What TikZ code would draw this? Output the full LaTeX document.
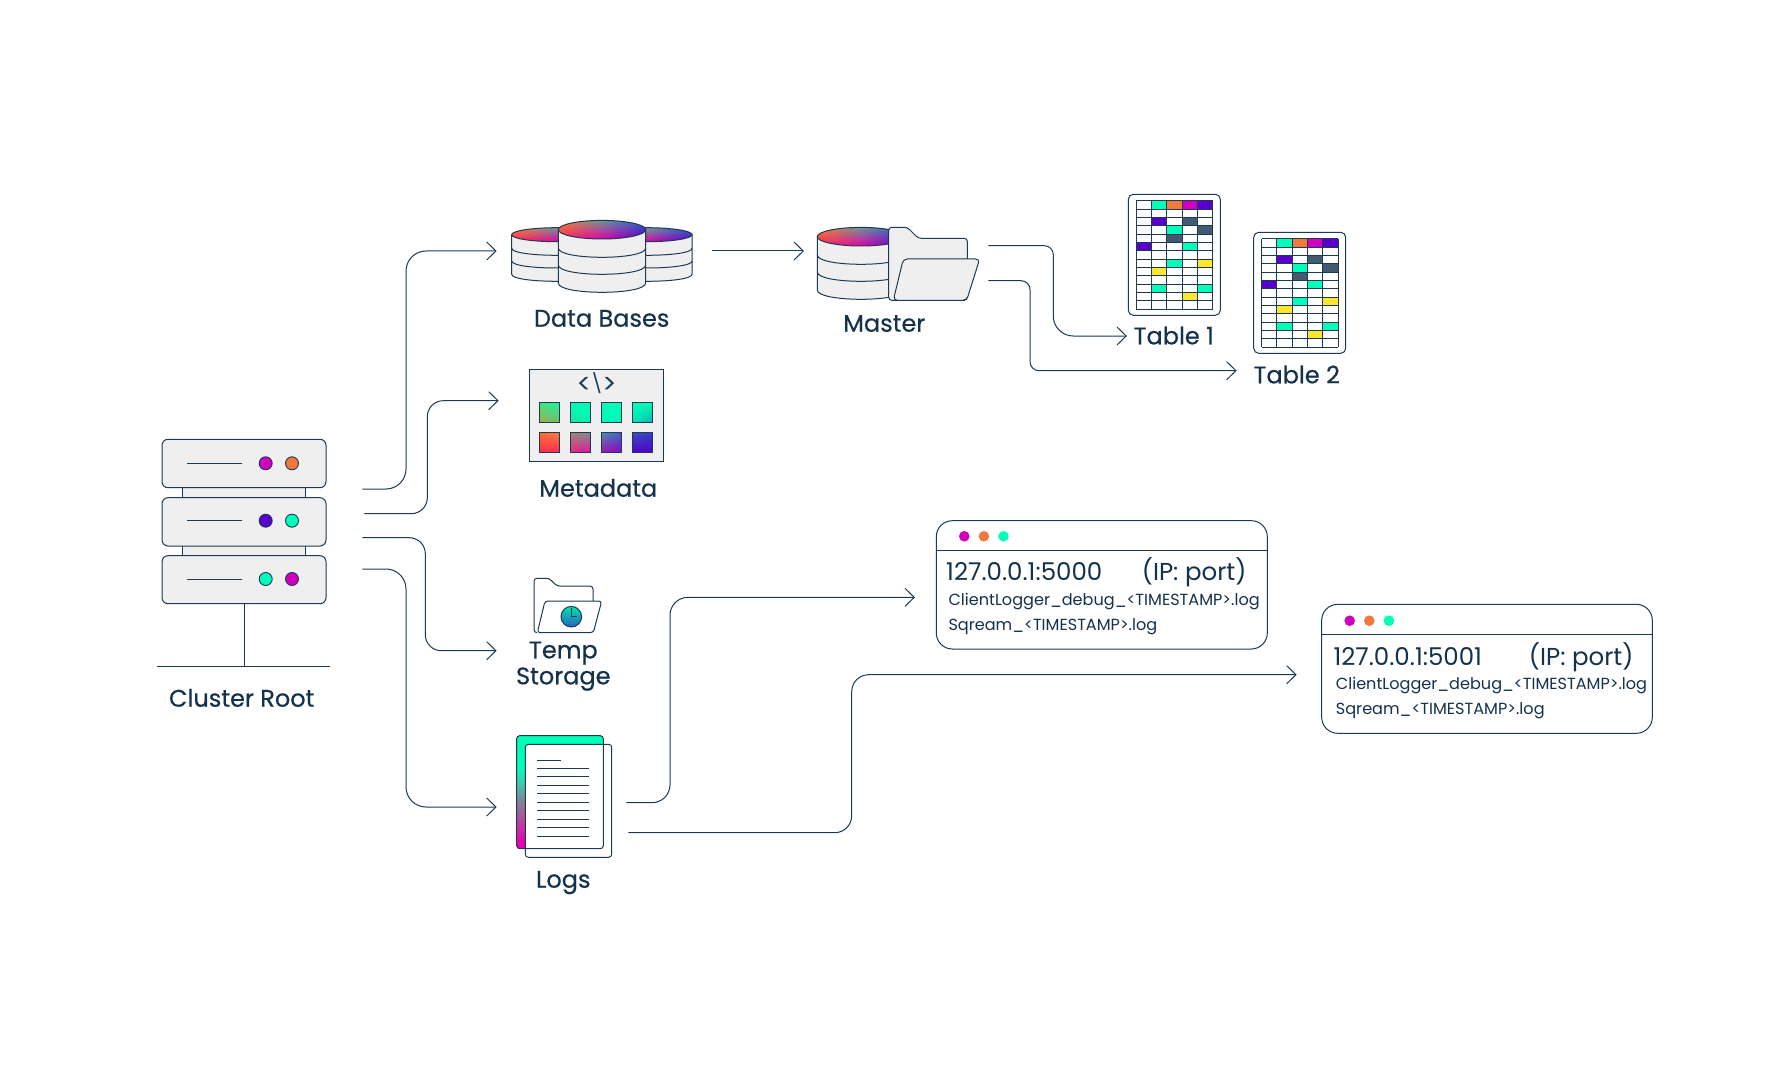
\documentclass[tikz,border=0pt]{standalone}
\usepackage{fontspec}
\setmainfont{Poppins}
\newfontfamily\labfont{Poppins}[FakeBold=0.5]
\usetikzlibrary{arrows.meta,shadings}
\definecolor{ink}{HTML}{1C3A54}
\definecolor{txt}{HTML}{14324C}
\definecolor{panel}{HTML}{EFEFEF}
\definecolor{mag}{HTML}{D000BE}
\definecolor{org}{HTML}{F07A3C}
\definecolor{pur}{HTML}{5A00CC}
\definecolor{teal}{HTML}{00FFB8}
\definecolor{yel}{HTML}{FBE72B}
\definecolor{sla}{HTML}{425A70}
\definecolor{lgA}{HTML}{E800B0}
\definecolor{lgB}{HTML}{B84AA0}
\definecolor{lgC}{HTML}{7C8A98}
\definecolor{lgD}{HTML}{30D8B0}
\pgfdeclareverticalshading{logsgrad}{100bp}{color(0bp)=(lgA); color(28bp)=(lgA); color(38bp)=(lgB); color(47bp)=(lgC); color(56bp)=(lgD); color(61bp)=(teal); color(100bp)=(teal)}
\tikzset{
 line/.style={draw=ink,line width=1pt},
 conn/.style={line,-{Straight Barb[length=9.3pt,width=18pt]}},
 lab/.style={inner sep=0pt,anchor=base,text=txt,font=\labfont\fontsize{24pt}{26pt}\selectfont},
 bigt/.style={inner sep=0pt,anchor=base west,text=txt,font=\fontsize{24.5pt}{26pt}\selectfont},
 smallt/.style={inner sep=0pt,anchor=base west,text=txt,font=\fontsize{16.1pt}{20pt}\selectfont},
 dotl/.style={line,line width=0.9pt},
}
\newcommand\bandarc[4]{\draw[line] (#1-#2,#4) .. controls (#1-#2,#4+1.333*#3) and (#1+#2,#4+1.333*#3) .. (#1+#2,#4);}
\newcommand\dbcyl[7]{%
 \path[line,fill=panel] (#1-#3,#2) -- (#1-#3,#7) .. controls (#1-#3,#7+1.333*#4) and (#1+#3,#7+1.333*#4) .. (#1+#3,#7) -- (#1+#3,#2) -- cycle;
 \bandarc{#1}{#3}{#4}{#5}\bandarc{#1}{#3}{#4}{#6}
 \begin{scope}
 \clip (#1,#2) ellipse [x radius=#3 pt,y radius=#4 pt];
 \shade[upper left=gOr,upper right=gGr,lower left=gRe,lower right=gMa] (#1-#3,#2-#4) rectangle (#1+0.3,#2+#4);
 \shade[upper left=gGr,upper right=gBl,lower left=gMa,lower right=pur] (#1,#2-#4) rectangle (#1+#3,#2+#4);
 \end{scope}
 \draw[line] (#1,#2) ellipse [x radius=#3 pt,y radius=#4 pt];
}
\definecolor{gOr}{HTML}{FF7A30}
\definecolor{gGr}{HTML}{6C9498}
\definecolor{gRe}{HTML}{FF2850}
\definecolor{gMa}{HTML}{E400A8}
\definecolor{gBl}{HTML}{2A60C8}
\newcommand\gsq[6]{%
 \definecolor{ga}{HTML}{#3}\definecolor{gb}{HTML}{#4}\definecolor{gc}{HTML}{#5}\definecolor{gd}{HTML}{#6}%
 \shade[upper left=ga,upper right=gb,lower left=gc,lower right=gd] (#1,#2) rectangle (#1+20.3,#2+20.3);
 \draw[line] (#1,#2) rectangle (#1+20.3,#2+20.3);
}
\newcommand\cellc[3]{\fill[#3] (1136.3+#2*15.28,201+#1*8.31) rectangle (1136.3+#2*15.28+15.28,201+#1*8.31+8.31);}
\newcommand\tablepic{%
 \draw[line,rounded corners=5pt] (1128.3,194.3) rectangle (1220.3,315.3);
 \cellc{0}{1}{teal}\cellc{0}{2}{org}\cellc{0}{3}{mag}\cellc{0}{4}{pur}
 \cellc{2}{1}{pur}\cellc{2}{3}{sla}
 \cellc{3}{2}{teal}\cellc{3}{4}{sla}
 \cellc{4}{2}{sla}
 \cellc{5}{0}{pur}\cellc{5}{3}{teal}
 \cellc{7}{2}{teal}\cellc{7}{4}{yel}
 \cellc{8}{1}{yel}
 \cellc{10}{1}{teal}\cellc{10}{4}{teal}
 \cellc{11}{3}{yel}
 \foreach \i in {0,...,13} {\draw[line] (1136.3,201+\i*8.31) -- (1212.7,201+\i*8.31);}
 \foreach \j in {0,...,5} {\draw[line] (1136.3+\j*15.28,201) -- (1136.3+\j*15.28,309);}
}
\newcommand\winpic[7]{%
 % x0 y0 x1 y1 yheader dotx doty
 \draw[line,rounded corners=16pt] (#1,#2) rectangle (#3,#4);
 \draw[line] (#1,#5) -- (#3,#5);
 \fill[mag] (#6,#7) circle [radius=5.3pt];
 \fill[org] (#6+19.6,#7) circle [radius=5.3pt];
 \fill[teal] (#6+39.2,#7) circle [radius=5.3pt];
}
\begin{document}
\begin{tikzpicture}[x=1pt,y=-1pt]
\useasboundingbox (0,0) rectangle (1770,1078);
\fill[white] (0,0) rectangle (1770,1078);
% ---------- server
\path[line,fill=panel] (182.7,485) rectangle (305,500);
\path[line,fill=panel] (182.7,544) rectangle (305,558);
\path[line,fill=panel,rounded corners=6pt] (162,439.3) rectangle (326,487.7);
\path[line,fill=panel,rounded corners=6pt] (162,497.7) rectangle (326,546);
\path[line,fill=panel,rounded corners=6pt] (162,555.7) rectangle (326,603.7);
\draw[line] (186.7,463.3) -- (241.7,463.3);
\draw[line] (186.7,520.7) -- (241.7,520.7);
\draw[line] (186.7,579.3) -- (241.7,579.3);
\path[dotl,fill=mag] (265.7,463.3) circle [radius=6.5pt];
\path[dotl,fill=org] (292,463.3) circle [radius=6.5pt];
\path[dotl,fill=pur] (265.7,520.7) circle [radius=6.5pt];
\path[dotl,fill=teal] (292,520.7) circle [radius=6.5pt];
\path[dotl,fill=teal] (265.7,579) circle [radius=6.5pt];
\path[dotl,fill=mag] (292,579) circle [radius=6.5pt];
\draw[line] (244,603.7) -- (244,666);
\draw[line] (157.3,666) -- (330.3,666);
\node[lab] (root) at (241.7,706.7) {Cluster Root};
% ---------- databases
\dbcyl{556.7}{234.7}{45}{7}{248.3}{261}{274.3}
\dbcyl{647}{234.7}{45}{7}{248.3}{261}{274.3}
\dbcyl{602}{229.7}{43.7}{9.3}{248}{265}{283}
\node[lab] (dbl) at (601.7,326.7) {Data Bases};
% ---------- master
\dbcyl{861}{236.7}{43.7}{9.3}{255}{272}{290}
\path[line,fill=panel,rounded corners=3pt] (888.7,300.3) -- (888.7,227.3) -- (907.3,227.3) -- (918.3,238.3) -- (967.3,238.3) -- (967.3,300.3) -- cycle;
\path[line,fill=panel,rounded corners=4pt] (903.3,259) -- (979.7,259) -- (966.7,300.3) -- (893.3,300.3) -- cycle;
\node[lab] (masl) at (884.3,331.7) {Master};
% ---------- metadata
\path[line,fill=panel] (529.3,369.3) rectangle (663.7,461.7);
\node[inner sep=0pt,text=ink,font=\fontsize{19pt}{20pt}\selectfont] (code) at (596.7,383.3) {\raisebox{-3pt}{\fontsize{27pt}{27pt}\selectfont<}\hspace{-1pt}\textbackslash\hspace{-1pt}\raisebox{-3pt}{\fontsize{27pt}{27pt}\selectfont>}};
\gsq{539.3}{402.3}{40E880}{20F0A0}{A8A848}{70C068}
\gsq{570.3}{402.3}{00FFB8}{00FFB8}{20E0A0}{00F8B0}
\gsq{601.3}{402.3}{00FFB8}{00FFB8}{00F8B8}{00F4B8}
\gsq{632.3}{402.3}{00FFB8}{00FFB8}{00E8B8}{10B0B0}
\gsq{539.3}{432.3}{FF7030}{F08040}{FF2848}{FF2858}
\gsq{570.3}{432.3}{A08878}{7C9090}{E82878}{E010A0}
\gsq{601.3}{432.3}{5090A8}{4060C8}{A010B0}{8808C0}
\gsq{632.3}{432.3}{3A50C0}{3040C8}{5500C8}{5000CC}
\node[lab] (metal) at (598.3,496.7) {Metadata};
% ---------- temp storage
\draw[line,rounded corners=3pt] (537,632.7) -- (534,632.7) -- (534,578.3) -- (549.3,578.3) -- (556.7,586) -- (593,586) -- (593,601);
\path[line,fill=white,rounded corners=3pt] (545,601) -- (601.7,601) -- (593.3,632.7) -- (537.3,632.7) -- cycle;
\shade[top color=teal!90!black,bottom color=gBl] (571.3,616.7) circle [radius=10.3pt];
\draw[line] (571.3,616.7) circle [radius=10.3pt];
\draw[line] (571.3,608.3) -- (571.3,616.7) -- (577.3,616.7);
\node[lab] (temp) at (563.3,658.3) {Temp};
\node[lab] (stor) at (563.3,684.3) {Storage};
% ---------- logs
\shade[shading=logsgrad,rounded corners=3pt] (516.7,735.7) rectangle (603.3,848.7);
\path[line,fill=white,rounded corners=3pt] (525.3,744.3) rectangle (611.7,857.3);
\draw[line,rounded corners=3pt] (516.7,735.7) rectangle (603.3,848.7);
\draw[line] (537,760) -- (561.3,760);
\foreach \i in {1,...,9} {\draw[line] (537,760+\i*8.45) -- (589,760+\i*8.45);}
\node[lab] (logl) at (563.3,887.7) {Logs};
% ---------- tables
\tablepic
\begin{scope}[shift={(125.4,38)}]
\tablepic
\end{scope}
\node[lab] (t1l) at (1173.7,344.3) {Table 1};
\node[lab] (t2l) at (1296.7,383.3) {Table 2};
% ---------- windows
\winpic{936.3}{520.7}{1267.3}{649}{550.3}{964.3}{536.3}
\node[bigt] (w1a) at (946,580.7) {127.0.0.1:5000};
\node[bigt] (w1b) at (1141.7,580.7) {(IP: port)};
\node[smallt] (w1c) at (948.3,605.7) {ClientLogger\_debug\_<TIMESTAMP>.log};
\node[smallt] (w1d) at (948.3,630.7) {Sqream\_<TIMESTAMP>.log};
\winpic{1321.7}{604.3}{1652.3}{733.3}{634.3}{1349.7}{620.7}
\node[bigt] (w2a) at (1333.3,665) {127.0.0.1:5001};
\node[bigt] (w2b) at (1528.7,665) {(IP: port)};
\node[smallt] (w2c) at (1335.7,689.3) {ClientLogger\_debug\_<TIMESTAMP>.log};
\node[smallt] (w2d) at (1335.7,714.3) {Sqream\_<TIMESTAMP>.log};
% ---------- connector ends
\coordinate (r1) at (362.3,489);
\coordinate (r2) at (364.3,513.7);
\coordinate (r3) at (362.3,537.7);
\coordinate (r4) at (362.3,569);
\coordinate (e1) at (406,400);
\coordinate (e2) at (427.3,450);
\coordinate (e3) at (425.3,600);
\coordinate (e4) at (406,700);
\coordinate (dbin) at (496.7,251);
\coordinate (metain) at (498.7,400.7);
\coordinate (tempin) at (496.7,650.7);
\coordinate (login) at (496.7,807);
\coordinate (dbout) at (712.3,251);
\coordinate (masin) at (804,251);
\coordinate (m1) at (988.3,245.7);
\coordinate (m2) at (988.3,280.7);
\coordinate (e5) at (1053.3,290);
\coordinate (e6) at (1030,320);
\coordinate (t1in) at (1127,336);
\coordinate (t2in) at (1236.7,370.7);
\coordinate (l1) at (626.3,802.7);
\coordinate (l2) at (628.3,832.7);
\coordinate (e7) at (670,700);
\coordinate (e8) at (851.7,750);
\coordinate (w1in) at (915,597.3);
\coordinate (w2in) at (1296.7,674.7);
\draw[conn,rounded corners=20pt] (r1) -| (e1) |- (dbin);
\draw[conn,rounded corners=16pt] (r2) -| (e2) |- (metain);
\draw[conn,rounded corners=16pt] (r3) -| (e3) |- (tempin);
\draw[conn,rounded corners=20pt] (r4) -| (e4) |- (login);
\draw[conn] (dbout) -- (masin);
\draw[conn,rounded corners=9pt] (m1) -| (e5) [rounded corners=20pt] |- (t1in);
\draw[conn,rounded corners=9pt] (m2) -| (e6) |- (t2in);
\draw[conn,rounded corners=18pt] (l1) -| (e7) |- (w1in);
\draw[conn,rounded corners=17pt] (l2) -| (e8) |- (w2in);
\end{tikzpicture}
\end{document}
